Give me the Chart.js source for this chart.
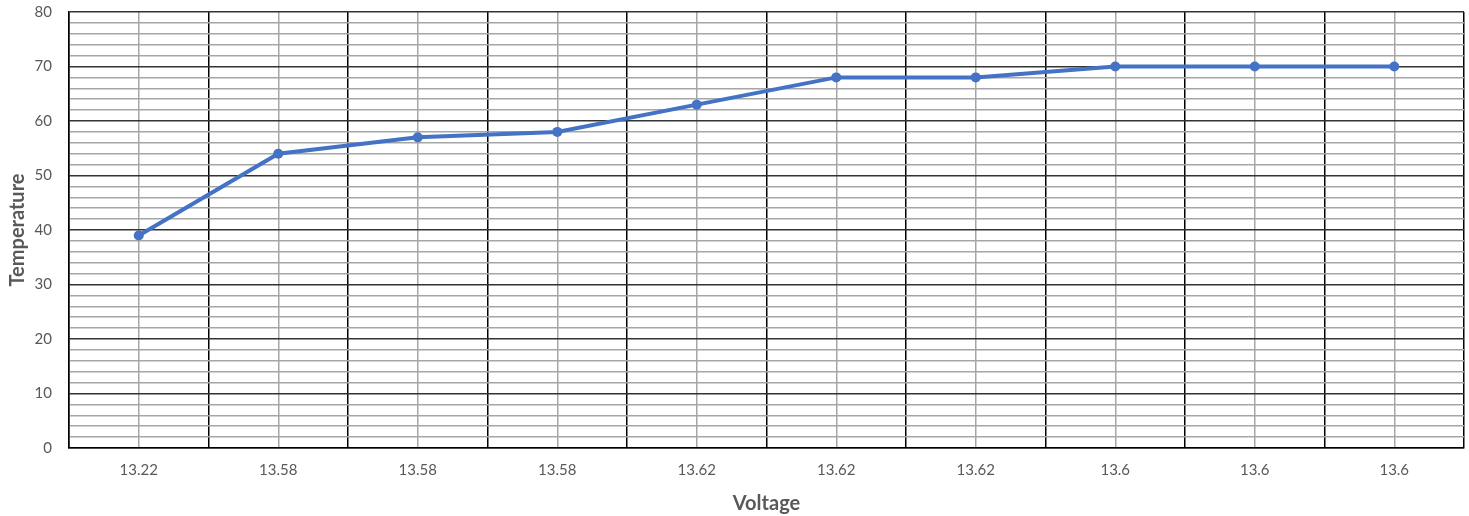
<!DOCTYPE html>
<html>
<head>
<meta charset="utf-8">
<script src="https://cdn.jsdelivr.net/npm/chart.js@4"></script>
<style>
  html, body { margin: 0; padding: 0; background: #fff; }
  #wrap { width: 1469px; height: 516px; position: relative; }
</style>
</head>
<body>
<div id="wrap"><canvas id="c"></canvas></div>
<script>
const categories = ['13.22', '13.58', '13.58', '13.58', '13.62', '13.62', '13.62', '13.6', '13.6', '13.6'];
const temperature = [39, 54, 57, 58, 63, 68, 68, 70, 70, 70];
const yMin = 0, yMax = 80, yMajor = 10, yMinor = 2;
const xTitle = 'Voltage';
const yTitle = 'Temperature';

const points = temperature.map((v, i) => ({ x: i, y: v }));
const textColor = '#595959';
const fontFamily = 'Lato, "Open Sans", sans-serif';

new Chart(document.getElementById('c'), {
  type: 'line',
  data: {
    datasets: [{
      data: points,
      borderColor: '#4472C4',
      backgroundColor: '#4472C4',
      borderWidth: 4,
      pointRadius: 5,
      pointHoverRadius: 5,
      pointBorderWidth: 0,
      tension: 0
    }]
  },
  options: {
    responsive: true,
    maintainAspectRatio: false,
    animation: false,
    layout: { padding: { top: 12, right: 3, left: 0, bottom: 0 } },
    plugins: { legend: { display: false }, tooltip: { enabled: false } },
    scales: {
      x: {
        type: 'linear',
        min: -0.5,
        max: categories.length - 0.5,
        afterFit: s => { s.height = 68; s.paddingLeft = 0; s.paddingRight = 0; },
        border: { display: true, color: '#000', width: 1.5 },
        grid: {
          drawTicks: false,
          lineWidth: 1.5,
          color: ctx => Number.isInteger(ctx.tick.value) ? '#a6a6a6' : '#000'
        },
        ticks: {
          stepSize: 0.5,
          autoSkip: false,
          maxRotation: 0,
          padding: 13,
          color: textColor,
          font: { family: fontFamily, size: 15 },
          callback: v => Number.isInteger(v) ? categories[v] : ''
        },
        title: {
          display: true,
          text: xTitle,
          color: textColor,
          font: { family: fontFamily, size: 20, weight: 'bold' },
          padding: { top: 0, bottom: 0 }
        }
      },
      y: {
        min: yMin,
        max: yMax,
        afterFit: s => { s.width = 69; s.paddingTop = 0; s.paddingBottom = 0; },
        border: { display: true, color: '#000', width: 1.5 },
        grid: {
          drawTicks: false,
          lineWidth: 1.5,
          color: ctx => (ctx.tick.value % yMajor === 0) ? '#333333' : '#a6a6a6'
        },
        ticks: {
          stepSize: yMinor,
          autoSkip: false,
          padding: 17,
          color: textColor,
          font: { family: fontFamily, size: 15 },
          callback: v => (v % yMajor === 0) ? String(v) : ''
        },
        title: {
          display: true,
          text: yTitle,
          color: textColor,
          font: { family: fontFamily, size: 20, weight: 'bold' },
          padding: { top: 6, bottom: 0 }
        }
      }
    }
  }
});
</script>
</body>
</html>
